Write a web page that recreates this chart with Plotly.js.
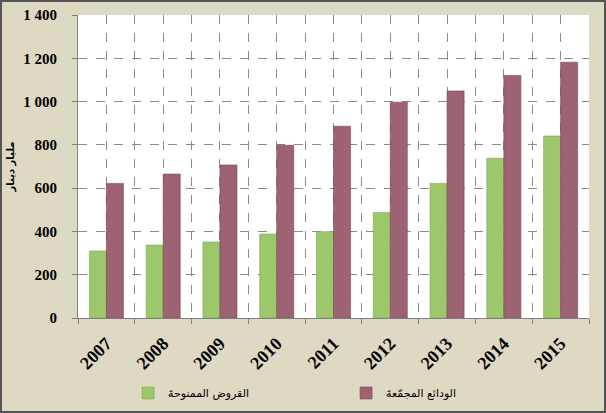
<!DOCTYPE html>
<html>
<head>
<meta charset="utf-8">
<script src="https://cdn.plot.ly/plotly-3.0.1.min.js"></script>
<style>
html,body{margin:0;padding:0;background:#DDD9C3;}
#wrap{width:602px;height:409px;border:2px solid #555;}
#chart{width:602px;height:409px;}
</style>
</head>
<body>
<div id="wrap"><div id="chart"></div></div>
<script>
const years = [2007, 2008, 2009, 2010, 2011, 2012, 2013, 2014, 2015];
const yearLabels = ["2007", "2008", "2009", "2010", "2011", "2012", "2013", "2014", "2015"];
const loans = [310, 337, 351, 388, 399, 488, 622, 738, 841];
const deposits = [622, 665, 707, 798, 886, 997, 1049, 1121, 1182];
const loansName = "القروض الممنوحةَ";
const depositsName = "الودائع المجمّعةَ";
const yTickVals = [0, 200, 400, 600, 800, 1000, 1200, 1400];
const yTickText = ["0", "200", "400", "600", "800", "1 000", "1 200", "1 400"];
const yTitle = "مليار دينار";

const traces = [
  {type: "bar", name: loansName, x: years, y: loans,
   marker: {color: "#9CC76B", line: {color: "#7FA652", width: 0.6}}},
  {type: "bar", name: depositsName, x: years, y: deposits,
   marker: {color: "#9D6372", line: {color: "#7A4553", width: 0.6}}}
];

const layout = {
  width: 602, height: 409,
  paper_bgcolor: "#DDD9C3",
  plot_bgcolor: "#FFFFFF",
  margin: {l: 76, r: 15, t: 13, b: 93, autoexpand: false},
  barmode: "group", bargap: 0.4, bargroupgap: 0,
  font: {family: "Liberation Serif, serif", color: "#000"},
  xaxis: {
    type: "linear", range: [2006.5, 2015.5], automargin: false,
    tickvals: years, ticktext: yearLabels, tickangle: -45,
    tickfont: {family: "Liberation Serif", size: 18, color: "#000", weight: "bold"},
    ticks: "", ticklabelstandoff: 7,
    showgrid: true, gridcolor: "#8a8a8a", griddash: "dash", gridwidth: 1,
    minor: {tick0: 2006.5, dtick: 1, showgrid: true, gridcolor: "#8a8a8a", griddash: "dash",
            ticks: "outside", ticklen: 5, tickcolor: "#808080"},
    showline: true, linecolor: "#808080", linewidth: 1, zeroline: false,
    fixedrange: true
  },
  yaxis: {
    range: [0, 1400], tickvals: yTickVals, ticktext: yTickText, automargin: false,
    tickfont: {family: "Liberation Serif", size: 15, color: "#000", weight: "bold"},
    ticks: "outside", ticklen: 5, tickcolor: "#808080", ticklabelstandoff: 12,
    showgrid: true, gridcolor: "#8a8a8a", griddash: "dash", gridwidth: 1,
    showline: true, linecolor: "#808080", linewidth: 1, zeroline: false,
    title: {text: yTitle, font: {family: "DejaVu Sans", size: 10, color: "#000", weight: "bold"}, standoff: 6}
  },
  legend: {
    orientation: "h", x: 0.098, xanchor: "left", y: -0.2475, yanchor: "middle",
    font: {family: "DejaVu Sans", size: 11, color: "#000"},
    bgcolor: "rgba(0,0,0,0)", itemwidth: 30, tracegroupgap: 0,
    entrywidth: 173, entrywidthmode: "pixels"
  },
  showlegend: true
};

Plotly.newPlot("chart", traces, layout, {displayModeBar: false, staticPlot: true});
</script>
</body>
</html>
